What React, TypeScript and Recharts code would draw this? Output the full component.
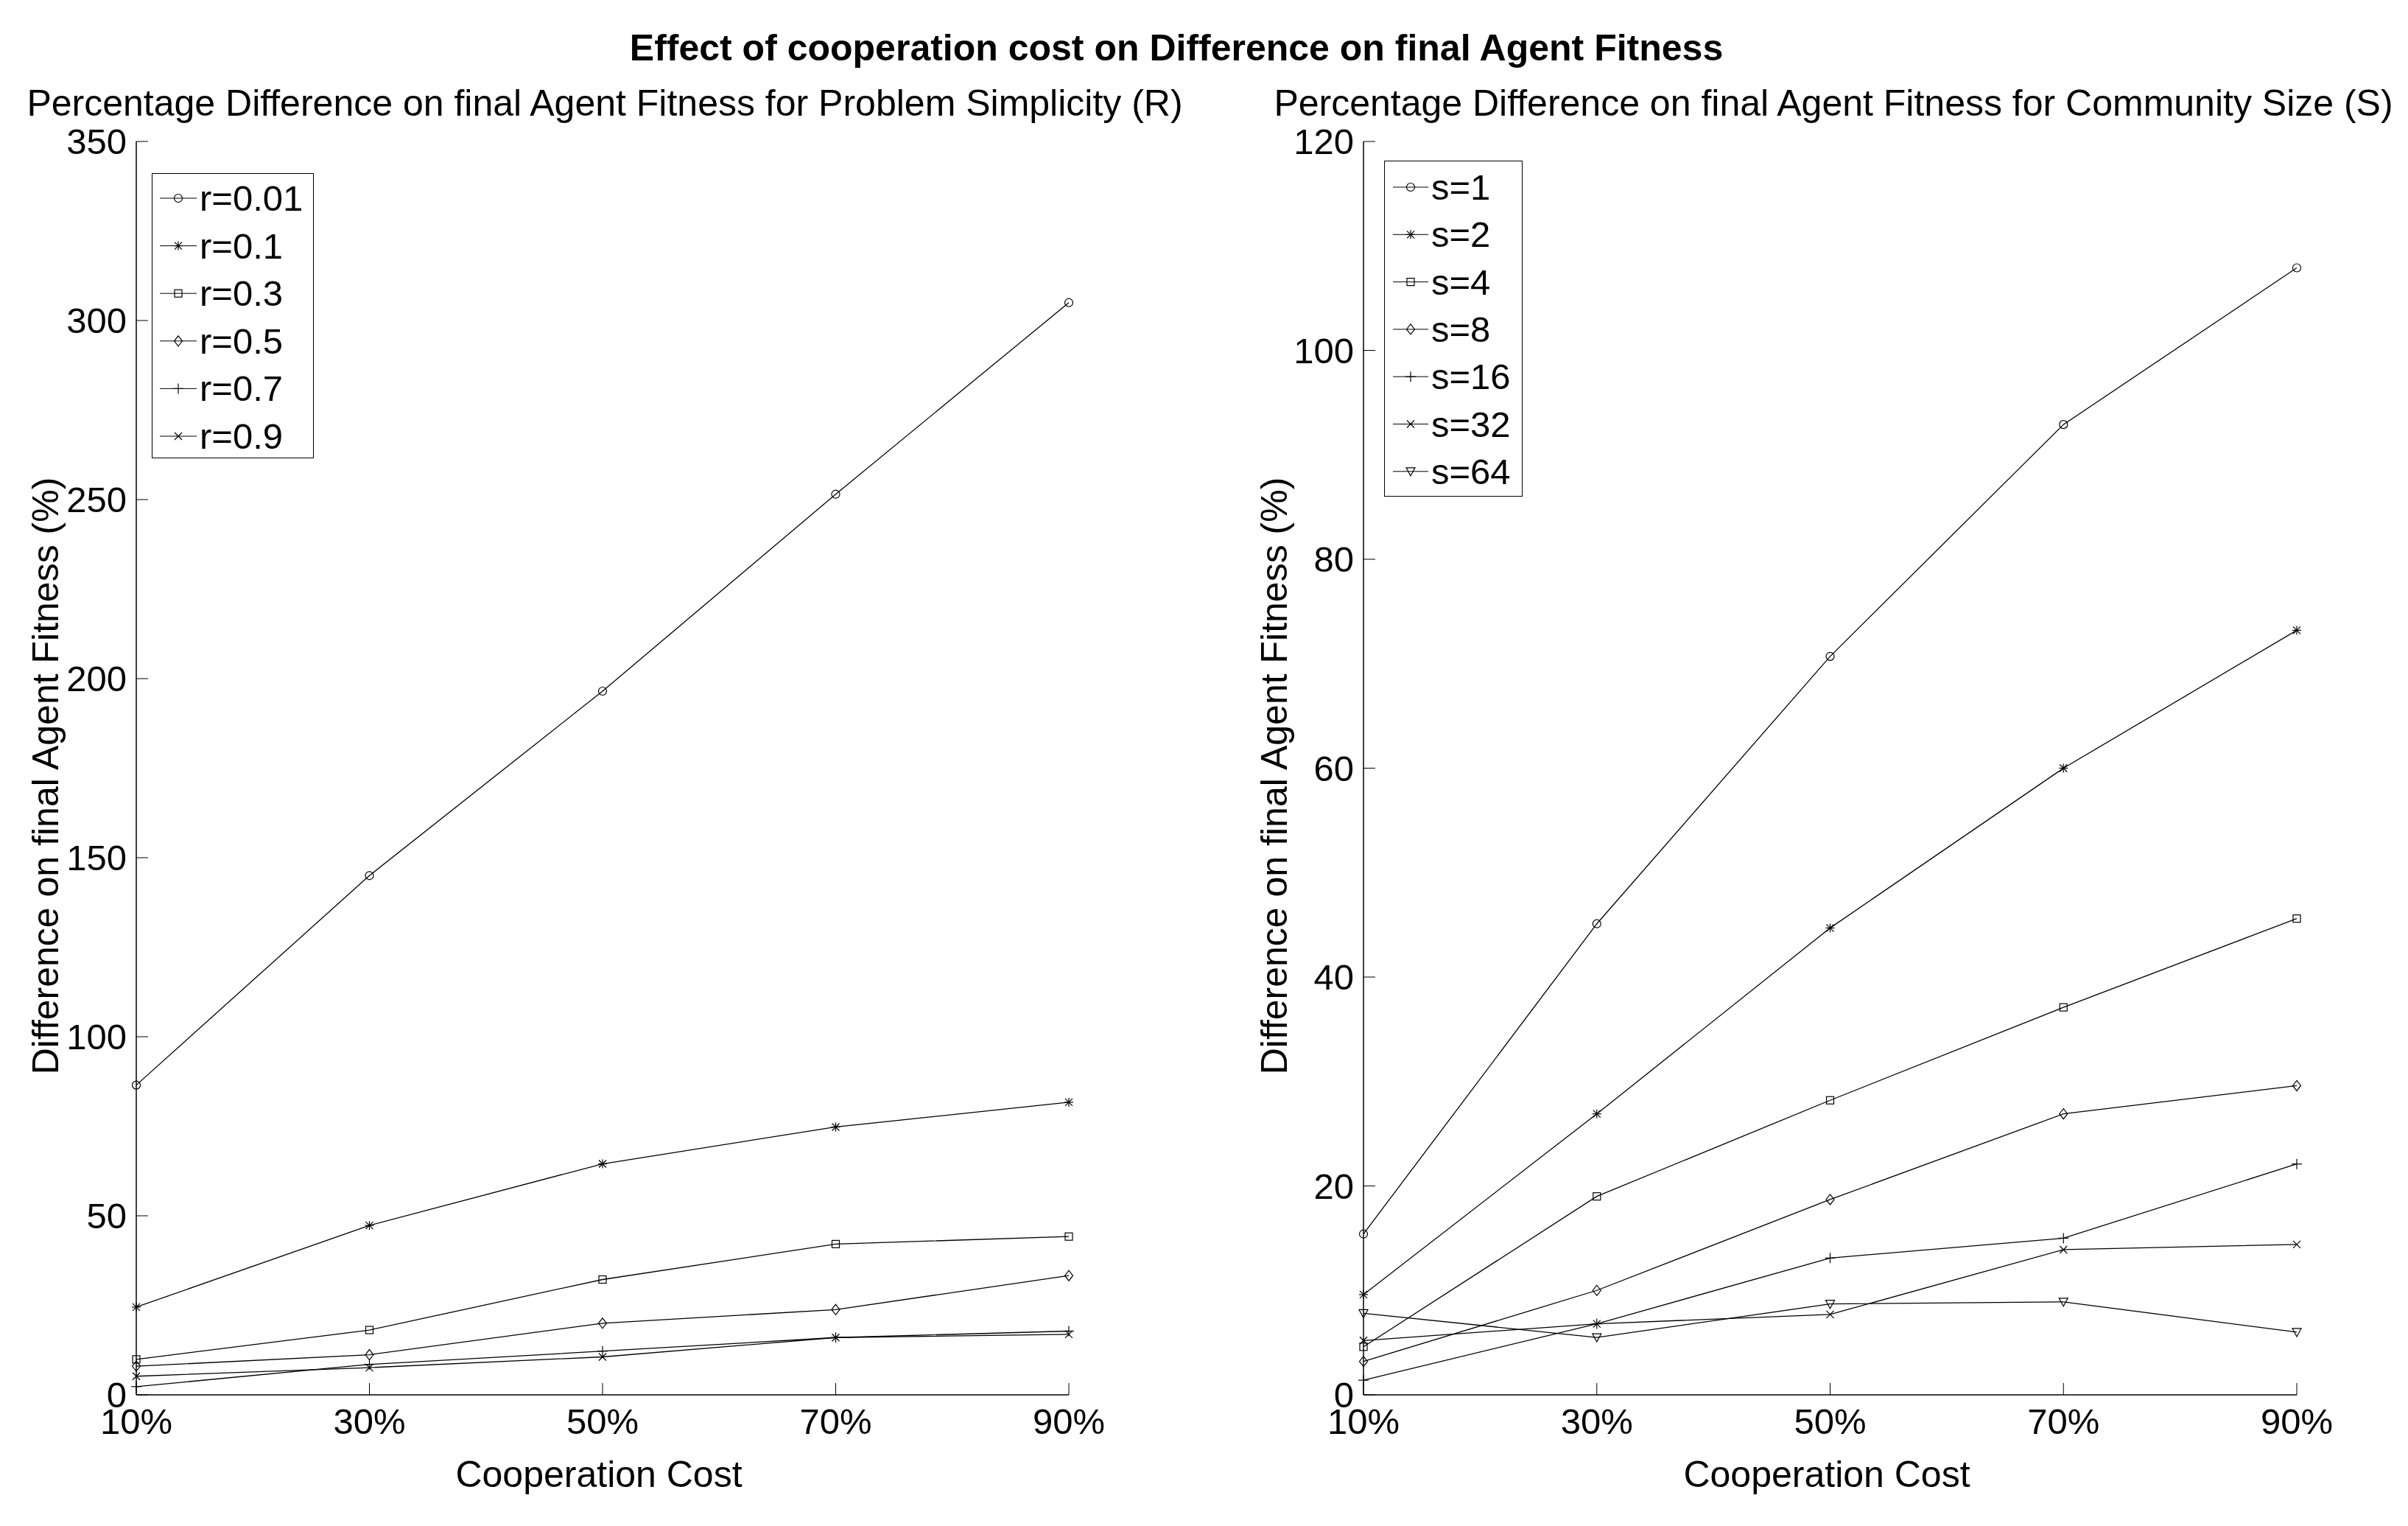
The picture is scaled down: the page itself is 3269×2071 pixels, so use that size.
import React from "react";
import { Line, LineChart, XAxis, YAxis } from "recharts";

const FONT = "'Liberation Sans', Arial, Helvetica, sans-serif";

// cooperation cost (x axis)
const costs = [10, 30, 50, 70, 90];
const costLabels = ["10%", "30%", "50%", "70%", "90%"];

// left panel: problem simplicity r
const rTicks = [0, 50, 100, 150, 200, 250, 300, 350];
const r001 = [86.5, 145, 196.5, 251.5, 305];
const r01 = [24.5, 47.3, 64.5, 74.8, 81.7];
const r03 = [9.9, 18.1, 32.2, 42.1, 44.2];
const r05 = [8.0, 11.2, 20.0, 23.8, 33.3];
const r07 = [2.3, 8.5, 12.2, 16.0, 17.8];
const r09 = [5.2, 7.6, 10.6, 16.0, 16.9];

// right panel: community size s
const sTicks = [0, 20, 40, 60, 80, 100, 120];
const s1 = [15.4, 45.1, 70.7, 92.9, 107.9];
const s2 = [9.6, 26.9, 44.7, 60.0, 73.2];
const s4 = [4.6, 19.0, 28.2, 37.1, 45.6];
const s8 = [3.2, 10.0, 18.7, 26.9, 29.6];
const s16 = [1.4, 6.8, 13.1, 15.0, 22.1];
const s32 = [5.2, 6.8, 7.7, 13.9, 14.4];
const s64 = [7.8, 5.5, 8.7, 8.9, 6.0];

type Shape = "circle" | "star" | "square" | "diamond" | "plus" | "x" | "tri";
type Series = { key: string; name: string; values: number[]; shape: Shape };

const rSeries: Series[] = [
  { key: "r001", name: "r=0.01", values: r001, shape: "circle" },
  { key: "r01", name: "r=0.1", values: r01, shape: "star" },
  { key: "r03", name: "r=0.3", values: r03, shape: "square" },
  { key: "r05", name: "r=0.5", values: r05, shape: "diamond" },
  { key: "r07", name: "r=0.7", values: r07, shape: "plus" },
  { key: "r09", name: "r=0.9", values: r09, shape: "x" },
];

const sSeries: Series[] = [
  { key: "s1", name: "s=1", values: s1, shape: "circle" },
  { key: "s2", name: "s=2", values: s2, shape: "star" },
  { key: "s4", name: "s=4", values: s4, shape: "square" },
  { key: "s8", name: "s=8", values: s8, shape: "diamond" },
  { key: "s16", name: "s=16", values: s16, shape: "plus" },
  { key: "s32", name: "s=32", values: s32, shape: "x" },
  { key: "s64", name: "s=64", values: s64, shape: "tri" },
];

function buildRows(series: Series[]) {
  return costs.map((c, i) => {
    const row: Record<string, number> = { cost: c };
    series.forEach((s) => (row[s.key] = s.values[i]));
    return row;
  });
}

function Marker({ cx, cy, shape }: { cx: number; cy: number; shape: Shape }) {
  const p = { stroke: "#000", strokeWidth: 1.2, fill: "none" };
  switch (shape) {
    case "circle":
      return <circle cx={cx} cy={cy} r={5.5} {...p} />;
    case "square":
      return <rect x={cx - 5} y={cy - 5} width={10} height={10} {...p} />;
    case "diamond":
      return <polygon points={`${cx},${cy - 7} ${cx + 5.5},${cy} ${cx},${cy + 7} ${cx - 5.5},${cy}`} {...p} />;
    case "tri":
      return <polygon points={`${cx - 6},${cy - 5} ${cx + 6},${cy - 5} ${cx},${cy + 6}`} {...p} />;
    case "plus":
      return (
        <g {...p}>
          <line x1={cx - 7} x2={cx + 7} y1={cy} y2={cy} />
          <line x1={cx} x2={cx} y1={cy - 7} y2={cy + 7} />
        </g>
      );
    case "x":
      return (
        <g {...p}>
          <line x1={cx - 5} x2={cx + 5} y1={cy - 5} y2={cy + 5} />
          <line x1={cx - 5} x2={cx + 5} y1={cy + 5} y2={cy - 5} />
        </g>
      );
    default:
      return (
        <g {...p}>
          <line x1={cx - 6} x2={cx + 6} y1={cy} y2={cy} />
          <line x1={cx} x2={cx} y1={cy - 6} y2={cy + 6} />
          <line x1={cx - 5} x2={cx + 5} y1={cy - 5} y2={cy + 5} />
          <line x1={cx - 5} x2={cx + 5} y1={cy + 5} y2={cy - 5} />
        </g>
      );
  }
}

function XTick({ x, y, payload }: any) {
  const i = costs.indexOf(payload.value);
  return (
    <g>
      <line x1={x} x2={x} y1={y} y2={y - 16} stroke="#000" />
      <text x={x} y={y + 36} textAnchor="middle" dominantBaseline="central" fontSize={49} fontFamily={FONT} fill="#000">
        {costLabels[i]}
      </text>
    </g>
  );
}

function YTick({ x, y, payload }: any) {
  return (
    <g>
      <line x1={x} x2={x + 16} y1={y} y2={y} stroke="#000" />
      <text x={x - 13} y={y} textAnchor="end" dominantBaseline="central" fontSize={49} fontFamily={FONT} fill="#000">
        {payload.value}
      </text>
    </g>
  );
}

function LegendBox({ series, left, top, width, height, firstRow, step, lineX1, lineX2, textX }: any) {
  return (
    <svg style={{ position: "absolute", left, top }} width={width + 2} height={height + 2}>
      <rect x={0.5} y={0.5} width={width} height={height} fill="#fff" stroke="#000" />
      {series.map((s: Series, i: number) => {
        const y = firstRow + i * step;
        return (
          <g key={s.key}>
            <line x1={lineX1} x2={lineX2} y1={y} y2={y} stroke="#000" />
            <Marker cx={(lineX1 + lineX2) / 2} cy={y} shape={s.shape} />
            <text x={textX} y={y} dominantBaseline="central" fontSize={49} fontFamily={FONT}>
              {s.name}
            </text>
          </g>
        );
      })}
    </svg>
  );
}

function Panel({ series, ticks, left, marginRight }: { series: Series[]; ticks: number[]; left: number; marginRight: number }) {
  const rows = buildRows(series);
  return (
    <div style={{ position: "absolute", left, top: 0 }}>
      <LineChart width={1500} height={2071} data={rows} margin={{ top: 192, right: marginRight, left: 85, bottom: 118 }}>
        <XAxis
          dataKey="cost"
          type="number"
          domain={[10, 90]}
          ticks={costs}
          height={60}
          tickSize={0}
          tickMargin={0}
          tickLine={false}
          tick={<XTick />}
          axisLine={{ stroke: "#000", strokeWidth: 1.5 }}
        />
        <YAxis
          type="number"
          domain={[ticks[0], ticks[ticks.length - 1]]}
          ticks={ticks}
          width={100}
          tickSize={0}
          tickMargin={0}
          tickLine={false}
          tick={<YTick />}
          axisLine={{ stroke: "#000", strokeWidth: 1.5 }}
        />
        {series.map((s) => (
          <Line
            key={s.key}
            dataKey={s.key}
            type="linear"
            stroke="#000"
            strokeWidth={1.3}
            isAnimationActive={false}
            activeDot={false}
            dot={(props: any) => <Marker key={props.index} cx={props.cx} cy={props.cy} shape={s.shape} />}
          />
        ))}
      </LineChart>
    </div>
  );
}

const txt: React.CSSProperties = {
  position: "absolute",
  fontFamily: FONT,
  fontSize: 50,
  color: "#000",
  whiteSpace: "nowrap",
  lineHeight: 1,
};

export default function App() {
  return (
    <div style={{ position: "absolute", left: 0, top: 0, width: 3269, height: 2071, background: "#fff", overflow: "hidden" }}>
      <Panel series={rSeries} ticks={rTicks} left={0} marginRight={49} />
      <Panel series={sSeries} ticks={sTicks} left={1666} marginRight={48} />

      <div style={{ ...txt, left: 1597, top: 65, transform: "translate(-50%, -50%)", fontWeight: "bold" }}>
        Effect of cooperation cost on Difference on final Agent Fitness
      </div>
      <div style={{ ...txt, left: 821, top: 140, transform: "translate(-50%, -50%)" }}>
        Percentage Difference on final Agent Fitness for Problem Simplicity (R)
      </div>
      <div style={{ ...txt, left: 2489, top: 140, transform: "translate(-50%, -50%)" }}>
        Percentage Difference on final Agent Fitness for Community Size (S)
      </div>

      <div style={{ ...txt, left: 62, top: 1053, transform: "translate(-50%, -50%) rotate(-90deg)" }}>
        Difference on final Agent Fitness (%)
      </div>
      <div style={{ ...txt, left: 1730, top: 1053, transform: "translate(-50%, -50%) rotate(-90deg)" }}>
        Difference on final Agent Fitness (%)
      </div>

      <div style={{ ...txt, left: 813, top: 2001, transform: "translate(-50%, -50%)" }}>Cooperation Cost</div>
      <div style={{ ...txt, left: 2480, top: 2001, transform: "translate(-50%, -50%)" }}>Cooperation Cost</div>

      <LegendBox series={rSeries} left={206} top={235} width={219} height={386} firstRow={34} step={64.6} lineX1={11} lineX2={61} textX={65} />
      <LegendBox series={sSeries} left={1879} top={218} width={187} height={455} firstRow={36} step={64.3} lineX1={12} lineX2={60} textX={64} />
    </div>
  );
}
